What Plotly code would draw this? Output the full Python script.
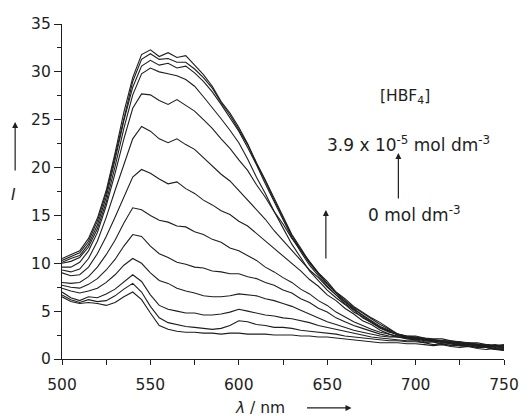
import plotly.graph_objects as go

# Wavelength grid (nm)
wavelength = [500, 505, 510, 515, 520, 525, 530, 535, 540, 545, 550, 555, 560, 565, 570,
              575, 580, 585, 590, 595, 600, 605, 610, 615, 620, 625, 630, 635, 640, 645,
              650, 655, 660, 665, 670, 675, 680, 685, 690, 695, 700, 705, 710, 715, 720,
              725, 730, 735, 740, 745, 750]

# Emission intensity I for increasing [HBF4] (0 -> 3.9e-5 mol dm-3)
I_00 = [6.5, 6.0, 5.8, 5.9, 5.8, 5.6, 5.9, 6.5, 7.0, 6.2,
        4.8, 3.5, 3.1, 2.9, 2.8, 2.8, 2.7, 2.7, 2.6, 2.7, 2.7, 2.6, 2.6, 2.6, 2.5, 2.5, 2.5,
        2.4, 2.4, 2.3, 2.3, 2.2, 2.1, 2.0, 1.9, 1.8, 1.7,
        1.7, 1.7, 1.6,
        1.6, 1.5, 1.4, 1.5, 1.3, 1.2, 1.3, 1.1, 1.0, 1.1, 0.9]
I_01 = [6.7, 6.2, 5.9, 6.2, 6.0, 6.1, 6.6, 7.3, 7.9, 7.0,
        5.5, 4.3, 3.8, 3.6, 3.4, 3.3, 3.2, 3.1, 3.2, 3.5, 4.0, 3.9, 3.6, 3.5, 3.3, 3.3, 3.2,
        3.0, 2.9, 2.8, 2.7, 2.6, 2.4, 2.3, 2.2, 2.1, 2.0,
        1.9, 1.9, 1.8,
        1.8, 1.7, 1.5, 1.6, 1.4, 1.4, 1.3, 1.2, 1.2, 1.0, 1.1]
I_02 = [7.0, 6.4, 6.1, 6.5, 6.4, 6.8, 7.3, 8.1, 8.8, 8.1,
        6.7, 5.6, 5.2, 5.0, 4.8, 4.8, 4.6, 4.6, 4.7, 4.9, 5.2, 5.0, 4.8, 4.6, 4.5, 4.3, 4.2,
        4.0, 3.8, 3.5, 3.3, 3.1, 2.9, 2.7, 2.5, 2.3, 2.2,
        2.1, 2.0, 1.9,
        1.9, 1.7, 1.8, 1.5, 1.6, 1.4, 1.3, 1.4, 1.2, 1.1, 1.2]
I_03 = [7.4, 7.1, 6.9, 7.1, 7.4, 8.0, 8.8, 9.8, 10.5, 10.0,
        9.0, 8.2, 7.9, 7.4, 7.1, 6.9, 6.6, 6.5, 6.5, 6.6, 6.8, 6.7, 6.6, 6.3, 6.1, 5.8, 5.5,
        5.1, 4.7, 4.3, 3.9, 3.6, 3.3, 3.0, 2.8, 2.6, 2.4,
        2.3, 2.3, 2.2,
        2.2, 2.0, 1.9, 1.8, 1.7, 1.7, 1.5, 1.5, 1.3, 1.3, 1.4]
I_04 = [7.7, 7.5, 7.4, 7.8, 8.4, 9.3, 10.4, 11.8, 13.0, 12.8,
        11.8, 11.0, 10.6, 10.1, 9.9, 9.6, 9.5, 9.2, 9.1, 8.9, 8.9, 8.6, 8.4, 8.0, 7.7, 7.2, 6.9,
        6.3, 5.9, 5.3, 4.9, 4.3, 3.9, 3.5, 3.2, 2.9, 2.6,
        2.4, 2.3, 2.1,
        2.0, 2.1, 1.8, 1.8, 1.6, 1.7, 1.5, 1.4, 1.5, 1.3, 1.2]
I_05 = [8.0, 7.9, 8.0, 8.6, 9.6, 10.9, 12.4, 14.2, 15.8, 15.6,
        15.0, 14.5, 14.3, 13.9, 13.8, 13.3, 13.0, 12.5, 12.2, 11.6, 11.3, 10.8, 10.3, 9.6, 9.1, 8.5, 8.0,
        7.3, 6.8, 6.1, 5.6, 4.9, 4.4, 3.9, 3.5, 3.1, 2.8,
        2.6, 2.4, 2.3,
        2.3, 2.1, 2.0, 1.9, 1.9, 1.7, 1.6, 1.6, 1.4, 1.5, 1.3]
I_06 = [9.0, 8.7, 8.8, 9.6, 11.0, 12.8, 14.8, 17.0, 19.0, 19.8,
        19.4, 18.8, 18.3, 18.5, 17.8, 17.3, 16.6, 16.1, 15.5, 15.1, 14.4, 13.9, 13.1, 12.4, 11.5, 10.8, 9.9,
        9.2, 8.3, 7.6, 6.7, 6.1, 5.3, 4.7, 4.0, 3.6, 3.0,
        2.6, 2.3, 2.2,
        2.1, 1.9, 2.0, 1.7, 1.8, 1.6, 1.6, 1.4, 1.5, 1.3, 1.4]
I_07 = [9.3, 9.1, 9.4, 10.5, 12.3, 14.8, 17.6, 20.4, 23.0, 24.3,
        23.8, 23.0, 22.6, 23.0, 22.4, 21.9, 21.0, 20.2, 19.3, 18.6, 17.6, 16.7, 15.6, 14.6, 13.4, 12.4, 11.3,
        10.4, 9.3, 8.5, 7.5, 6.7, 5.8, 5.1, 4.3, 3.8, 3.2,
        2.8, 2.6, 2.4,
        2.4, 2.2, 2.1, 2.1, 1.9, 1.8, 1.7, 1.7, 1.5, 1.4, 1.5]
I_08 = [9.6, 9.6, 10.1, 11.3, 13.2, 16.0, 19.4, 23.0, 26.2, 27.7,
        27.6, 27.0, 26.6, 27.1, 26.5, 25.9, 25.0, 24.1, 23.0, 22.0, 20.8, 19.7, 18.2, 16.9, 15.4, 14.1, 12.6,
        11.4, 10.1, 9.0, 7.9, 7.0, 6.0, 5.3, 4.5, 3.9, 3.3,
        2.9, 2.5, 2.3,
        2.2, 2.2, 1.9, 1.9, 1.8, 1.6, 1.7, 1.5, 1.4, 1.4, 1.2]
I_09 = [10.0, 10.2, 10.6, 11.7, 13.6, 16.4, 20.1, 24.1, 27.6, 29.8,
        30.4, 30.0, 29.8, 29.6, 29.2, 28.5, 27.4, 26.3, 25.1, 23.9, 22.6, 20.9, 19.0, 17.3, 15.4, 13.7, 12.0,
        10.6, 9.2, 8.2, 7.2, 6.4, 5.7, 4.9, 4.4, 3.8, 3.3,
        2.9, 2.5, 2.2,
        2.0, 1.8, 1.8, 1.6, 1.6, 1.4, 1.4, 1.2, 1.2, 1.0, 0.9]
I_10 = [10.1, 10.5, 10.8, 12.0, 14.0, 16.9, 20.8, 24.9, 28.4, 30.6,
        31.2, 30.7, 30.9, 30.4, 30.6, 29.9, 29.0, 27.9, 26.6, 25.2, 23.8, 22.1, 20.3, 18.3, 16.4, 14.6, 12.7,
        11.2, 9.8, 8.7, 7.6, 6.7, 6.0, 5.2, 4.6, 4.0, 3.4,
        3.0, 2.5, 2.3,
        2.1, 2.0, 1.8, 1.8, 1.6, 1.5, 1.5, 1.3, 1.3, 1.1, 1.0]
I_11 = [10.3, 10.7, 11.1, 12.3, 14.4, 17.3, 21.2, 25.4, 29.0, 31.3,
        31.9, 31.3, 31.4, 31.0, 31.0, 30.3, 29.4, 28.3, 26.8, 25.5, 24.0, 22.4, 20.4, 18.6, 16.6, 14.8, 12.9,
        11.4, 10.0, 8.9, 7.8, 6.9, 6.1, 5.4, 4.8, 4.2, 3.6,
        3.1, 2.6, 2.3,
        2.2, 2.0, 2.0, 1.8, 1.7, 1.6, 1.6, 1.4, 1.3, 1.2, 1.1]
I_12 = [10.5, 10.9, 11.3, 12.6, 14.7, 17.6, 21.5, 25.8, 29.4, 31.8,
        32.3, 31.6, 32.0, 31.5, 31.7, 30.7, 29.7, 28.5, 26.9, 25.7, 24.2, 22.5, 20.5, 18.7, 16.8, 14.9, 13.0,
        11.6, 10.1, 9.0, 8.1, 7.0, 6.3, 5.5, 4.9, 4.3, 3.8,
        3.2, 2.6, 2.4,
        2.3, 2.1, 2.0, 1.9, 1.8, 1.8, 1.6, 1.5, 1.5, 1.3, 1.2]

spectra = [I_00, I_01, I_02, I_03, I_04, I_05, I_06, I_07, I_08, I_09, I_10, I_11, I_12]

x_ticks = [500, 550, 600, 650, 700, 750]
y_ticks = [0, 5, 10, 15, 20, 25, 30, 35]

FONT = "DejaVu Sans"
INK = "#1e1e1e"

fig = go.Figure()
for s in spectra:
    fig.add_trace(go.Scatter(x=wavelength, y=s, mode="lines",
                             line=dict(color=INK, width=1.1),
                             showlegend=False, hoverinfo="skip"))

axis_common = dict(showline=True, linecolor=INK, linewidth=1.3, ticks="outside",
                   tickcolor=INK, tickwidth=1.2, showgrid=False, zeroline=False,
                   mirror=False, tickfont=dict(family=FONT, size=15.5, color=INK))

fig.update_xaxes(range=[500, 750], tickvals=x_ticks, ticklen=5, ticklabelstandoff=6,
                 minor=dict(ticks="outside", dtick=25, ticklen=5, tickcolor=INK, tickwidth=1.2),
                 **axis_common)
fig.update_yaxes(range=[0, 35], tickvals=y_ticks, ticklen=7,
                 minor=dict(ticks="outside", dtick=2.5, ticklen=4, tickcolor=INK, tickwidth=1.2),
                 **axis_common)


def label(x, y, text, size=15.5):
    return dict(xref="paper", yref="paper", x=x, y=y, text=text, showarrow=False,
                xanchor="center", yanchor="middle",
                font=dict(family=FONT, size=size, color=INK))


def arrow(x, y, ax, ay):
    return dict(xref="paper", yref="paper", x=x, y=y, ax=ax, ay=ay, text="",
                showarrow=True, arrowhead=2, arrowsize=1, arrowwidth=1.2,
                arrowcolor=INK, standoff=0, startstandoff=0)


annotations = [
    arrow(-0.106, 0.7075, 0, 50),                 # arrow next to I
    label(-0.110, 0.49, "<i>I</i>"),
    label(0.448, -0.146, "<i>λ</i> / nm"),
    arrow(0.655, -0.146, -46, 0),                 # arrow after λ / nm
    label(0.777, 0.782, "[HBF<sub>4</sub>]"),
    label(0.785, 0.643, "3.9 x 10<sup>-5</sup> mol dm<sup>-3</sup>", size=17),
    arrow(0.761, 0.615, 0, 47),
    label(0.797, 0.432, "0 mol dm<sup>-3</sup>", size=17),
    arrow(0.597, 0.445, 0, 50),                   # arrow inside the plot
]

fig.update_layout(width=531, height=416,
                  margin=dict(l=62, r=25, t=24, b=57),
                  plot_bgcolor="white", paper_bgcolor="white",
                  annotations=annotations)

fig.write_html("out.html", config={"displayModeBar": False},
               post_script="document.body.style.margin='0';document.body.style.overflow='hidden';")
